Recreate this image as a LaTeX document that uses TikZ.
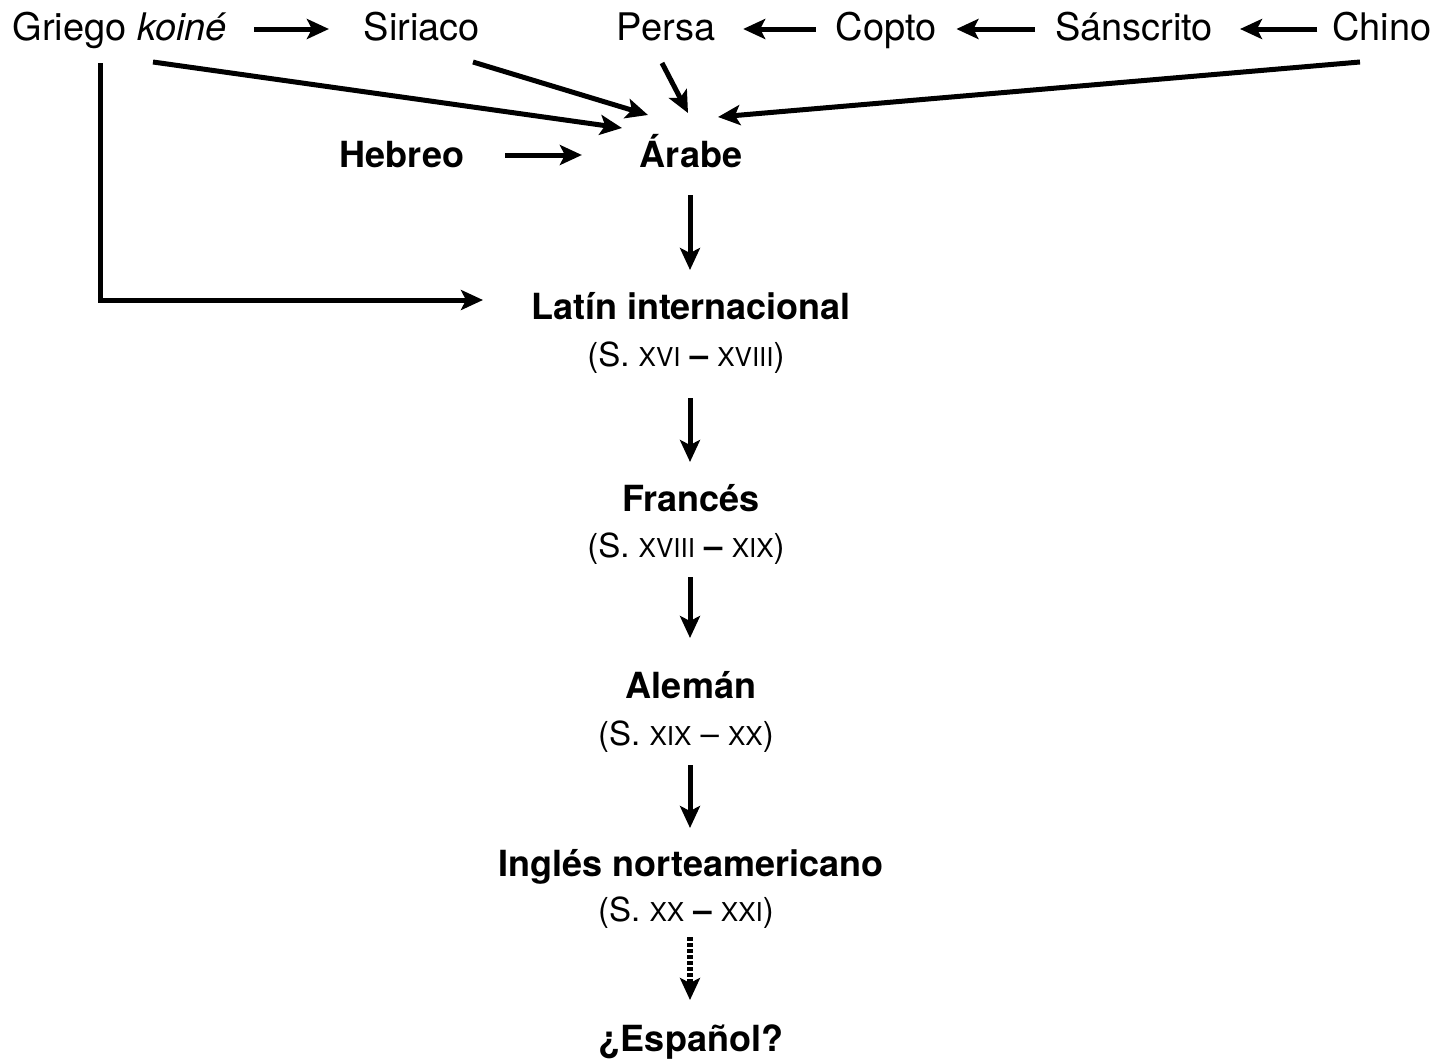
\documentclass[tikz,border=0pt]{standalone}
\usepackage{fontspec}
\setmainfont{TeX Gyre Heros}
\usetikzlibrary{arrows.meta}
\newcommand{\rmn}[1]{{\fontsize{26}{28}\selectfont #1}}
\begin{document}
\begin{tikzpicture}[x=1pt,y=-1pt,
  every node/.style={inner sep=0pt, outer sep=0pt, anchor=base},
  toplab/.style={font=\fontsize{38}{40}\selectfont},
  boldlab/.style={font=\fontsize{36}{40}\selectfont\bfseries},
  centlab/.style={font=\fontsize{33}{36}\selectfont},
  arr/.style={line width=5pt, -{Stealth[length=22pt,width=20pt,inset=5pt]}},
  darr/.style={line width=6pt, dash pattern=on 4pt off 2pt, -{Stealth[length=22pt,width=20pt,inset=5pt]}},
]
\useasboundingbox (0,0) rectangle (1443,1058);

% top row
\node[toplab] (griego) at (120,40) {Griego \textit{koiné}};
\node[toplab] (siriaco) at (422,40) {Siriaco};
\node[toplab] (persa) at (666,40) {Persa};
\node[toplab] (copto) at (886,40) {Copto};
\node[toplab] (sanscrito) at (1134,40) {Sánscrito};
\node[toplab] (chino) at (1382,40) {Chino};

\node[boldlab] (hebreo) at (402,167) {Hebreo};
\node[boldlab] (arabe) at (691,167) {Árabe};

\node[boldlab] (latin) at (691,319) {Latín internacional};
\node[centlab] (c1) at (686,366) {(S. \rmn{XVI} \textbf{--} \rmn{XVIII})};
\node[boldlab] (frances) at (691,511) {Francés};
\node[centlab] (c2) at (686,557) {(S. \rmn{XVIII} \textbf{--} \rmn{XIX})};
\node[boldlab] (aleman) at (691,698) {Alemán};
\node[centlab] (c3) at (686,745) {(S. \rmn{XIX} -- \rmn{XX})};
\node[boldlab] (ingles) at (691,876) {Inglés norteamericano};
\node[centlab] (c4) at (686,921) {(S. \rmn{XX} \textbf{--} \rmn{XXI})};
\node[boldlab] (espanol) at (691,1051) {¿Español?};

% top-row arrows
\draw[arr] ([shift={(27,-11)}]griego.base east) -- ([shift={(-35,-11)}]siriaco.base west);
\draw[arr] ([shift={(-20,-11)}]copto.base west) -- ([shift={(28,-11)}]persa.base east);
\draw[arr] ([shift={(-20,-11)}]sanscrito.base west) -- ([shift={(20,-11)}]copto.base east);
\draw[arr] ([shift={(-15,-11)}]chino.base west) -- ([shift={(27,-11)}]sanscrito.base east);

% into Arabe
\draw[arr] ([shift={(41,-12)}]hebreo.base east) -- ([shift={(-58,-12)}]arabe.base west);
\draw[arr] ([shift={(33,22)}]griego.base) -- ([shift={(-69,-39)}]arabe.base);
\draw[arr] ([shift={(51,22)}]siriaco.base) -- ([shift={(-43,-52)}]arabe.base);
\draw[arr] ([shift={(-4,23)}]persa.base) -- ([shift={(-3,-54)}]arabe.base);
\draw[arr] ([shift={(-22,22)}]chino.base) -- ([shift={(27,-50)}]arabe.base);

% Griego to Latin
\draw[arr] ([shift={(-20,23)}]griego.base) |- ([shift={(-208,-19)}]latin.base);

% vertical chain
\draw[arr] ([shift={(-1,28)}]arabe.base) -- ([shift={(-1,-49)}]latin.base);
\draw[arr] ([shift={(4,32)}]c1.base) -- ([shift={(-1,-49)}]frances.base);
\draw[arr] ([shift={(4,20)}]c2.base) -- ([shift={(-1,-60)}]aleman.base);
\draw[arr] ([shift={(4,20)}]c3.base) -- ([shift={(-1,-48)}]ingles.base);
\draw[darr] ([shift={(4,16)}]c4.base) -- ([shift={(-1,-51)}]espanol.base);
\end{tikzpicture}
\end{document}
